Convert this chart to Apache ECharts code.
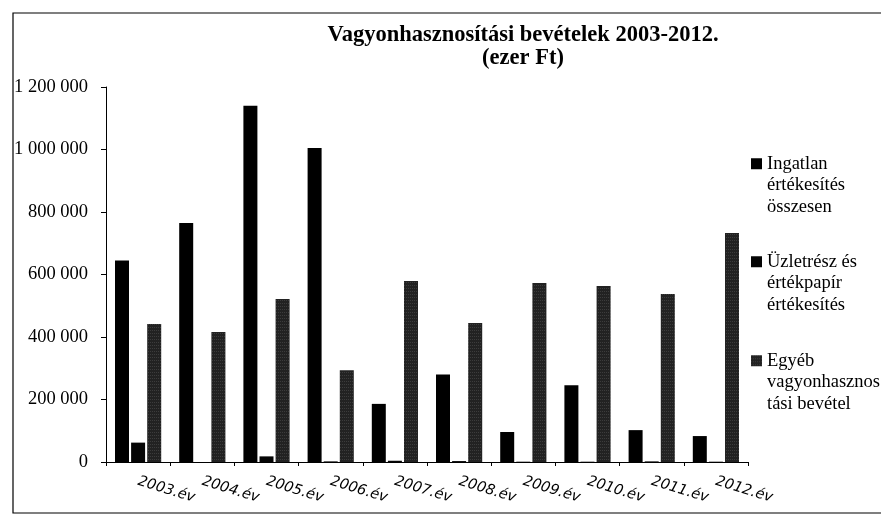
<!DOCTYPE html>
<html>
<head>
<meta charset="utf-8">
<script src="https://cdn.jsdelivr.net/npm/echarts@6/dist/echarts.min.js"></script>
<style>
html, body { margin: 0; padding: 0; background: #fff; }
#container1 { width: 881px; height: 524px; }
</style>
</head>
<body>
<div id="container1"></div>
<script>
var categories = ['2003.év', '2004.év', '2005.év', '2006.év', '2007.év', '2008.év', '2009.év', '2010.év', '2011.év', '2012.év'];
var ingatlan = [645000, 765000, 1140000, 1005000, 186000, 280000, 96000, 246000, 102000, 83000];
var uzletresz = [62000, 0, 18000, 2000, 4000, 3000, 1000, 1000, 2000, 1000];
var egyeb = [442000, 416000, 522000, 294000, 579000, 445000, 573000, 563000, 538000, 733000];
var seriesNames = ['Ingatlan értékesítés összesen', 'Üzletrész és értékpapír értékesítés', 'Egyéb vagyonhasznosítási bevétel'];
var legendLines = ['Ingatlan\nértékesítés\nösszesen', 'Üzletrész és\nértékpapír\nértékesítés', 'Egyéb\nvagyonhasznos\ntási bevétel'];
var yTicks = [0, 1200000, 200000];

var myChart = echarts.init(document.getElementById('container1'));
initChart();

function initChart(){

var serif = 'Liberation Serif';
// speckled fill of the third series
var patternDecal = {
    symbol: 'rect',
    symbolSize: 0.7,
    dashArrayX: [1, 1],
    dashArrayY: [1, 2],
    rotation: 0,
    color: 'rgba(255,255,255,0.35)'
};

function legendFor(i, top){
    return {
        data: [seriesNames[i]],
        orient: 'vertical',
        left: 751,
        top: top,
        padding: 0,
        itemWidth: 11,
        itemHeight: 11,
        icon: 'rect',
        formatter: function(){ return '\n\n' + legendLines[i]; },
        textStyle: {
            fontFamily: serif,
            fontSize: 18.5,
            lineHeight: 21.5,
            color: '#000'
        }
    };
}

var option = {
    animation: false,
    backgroundColor: '#fff',
    title: {
        text: 'Vagyonhasznosítási bevételek 2003-2012.\n(ezer Ft)',
        left: 518,
        top: 19,
        textAlign: 'center',
        textStyle: {
            fontFamily: serif,
            fontWeight: 'bold',
            fontSize: 22.5,
            lineHeight: 23,
            color: '#000'
        }
    },
    legend: [legendFor(0, 110), legendFor(1, 208), legendFor(2, 307)],
    grid: {
        left: 106,
        right: 133,
        top: 87,
        bottom: 62,
        containLabel: false
    },
    xAxis: {
        type: 'category',
        data: categories,
        axisLine: { lineStyle: { color: '#000', width: 1 } },
        axisTick: { show: true, length: 4, lineStyle: { color: '#000' } },
        axisLabel: {
            interval: 0,
            rotate: -17,
            margin: 19,
            fontFamily: 'DejaVu Sans',
            fontStyle: 'italic',
            fontSize: 14.5,
            color: '#000'
        }
    },
    yAxis: {
        type: 'value',
        min: yTicks[0],
        max: yTicks[1],
        interval: yTicks[2],
        splitLine: { show: false },
        axisLine: { show: true, lineStyle: { color: '#000', width: 1 } },
        axisTick: { show: true, length: 5, lineStyle: { color: '#000' } },
        axisLabel: {
            margin: 18,
            fontFamily: serif,
            fontSize: 18.5,
            color: '#000',
            formatter: function(v){ return String(v).replace(/\B(?=(\d{3})+(?!\d))/g, ' '); }
        }
    },
    series: [{
        name: seriesNames[0],
        type: 'bar',
        data: ingatlan,
        barWidth: 14,
        barGap: '15%',
        itemStyle: { color: '#000' }
    }, {
        name: seriesNames[1],
        type: 'bar',
        data: uzletresz,
        barWidth: 14,
        barGap: '15%',
        itemStyle: { color: '#050505' }
    }, {
        name: seriesNames[2],
        type: 'bar',
        data: egyeb,
        barWidth: 14,
        barGap: '15%',
        itemStyle: { color: '#222', decal: patternDecal }
    }],
    graphic: [{
        type: 'rect',
        silent: true,
        shape: { x: 13, y: 13, width: 900, height: 500 },
        style: { fill: 'none', stroke: '#000', lineWidth: 1.2 }
    }]
};
myChart.setOption(option);
}
</script>
</body>
</html>
